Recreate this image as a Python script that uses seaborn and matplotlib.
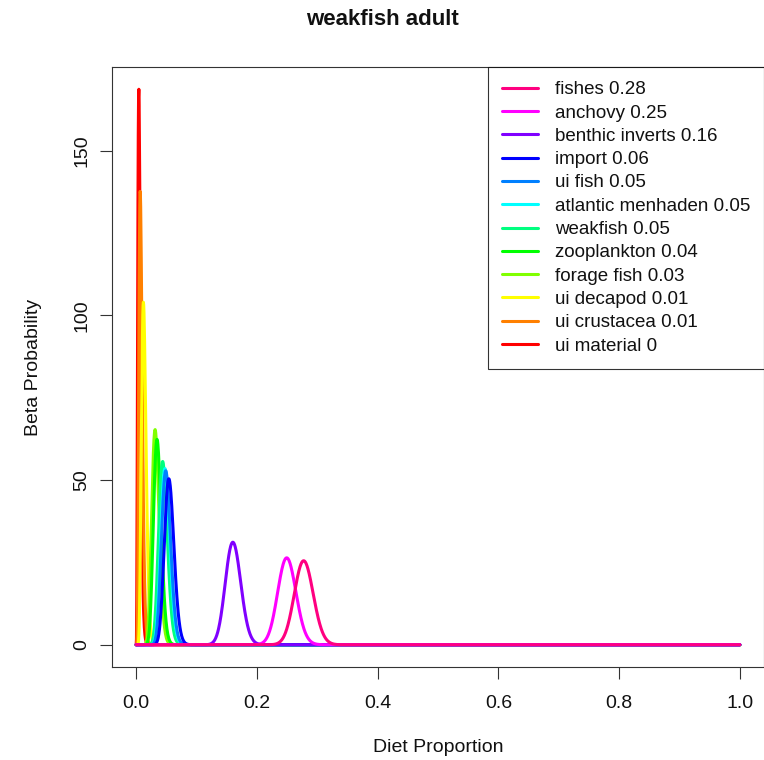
import math

import matplotlib

matplotlib.use("Agg")
import matplotlib.pyplot as plt
import numpy as np
import pandas as pd
import seaborn as sns

# prey groups in drawing order (legend shows them reversed)
prey = [
    "ui material", "ui crustacea", "ui decapod", "forage fish", "zooplankton",
    "weakfish", "atlantic menhaden", "ui fish", "import", "benthic inverts",
    "anchovy", "fishes",
]
legend_props = ["0", "0.01", "0.01", "0.03", "0.04", "0.05", "0.05", "0.05",
                "0.06", "0.16", "0.25", "0.28"]
# beta means estimated from curve positions/heights, shared precision
means = [0.0056, 0.0079, 0.0132, 0.0325, 0.0357, 0.045, 0.0488, 0.0501,
         0.0552, 0.161, 0.250, 0.278]
precision = 820.0
colors = ["#FF0000", "#FF8000", "#FFFF00", "#80FF00", "#00FF00", "#00FF80",
          "#00FFFF", "#0080FF", "#0000FF", "#8000FF", "#FF00FF", "#FF0080"]

x = np.linspace(0, 1, 2001)


def beta_pdf(xs, a, b):
    logc = math.lgamma(a + b) - math.lgamma(a) - math.lgamma(b)
    with np.errstate(divide="ignore"):
        out = np.exp(logc + (a - 1) * np.log(xs) + (b - 1) * np.log1p(-xs))
    return np.nan_to_num(out)


rows = []
for name, lab, m in zip(prey, legend_props, means):
    a, b = m * precision, (1 - m) * precision
    rows.append(pd.DataFrame({"x": x, "y": beta_pdf(x, a, b),
                              "prey": f"{name} {lab}"}))
df = pd.concat(rows, ignore_index=True)
labels = [f"{n} {l}" for n, l in zip(prey, legend_props)]

sns.set_style("ticks")
plt.rcParams["font.family"] = ["Liberation Sans", "DejaVu Sans"]

fig = plt.figure(figsize=(7.64, 7.60), dpi=100)
ax = fig.add_axes([0.1466, 0.1224, 0.8534, 0.7894])
sns.lineplot(data=df, x="x", y="y", hue="prey", hue_order=labels,
             palette=colors, linewidth=2.2, ax=ax, legend=True)

ymax = df["y"].max()
ax.set_xlim(-0.04, 1.04)
ax.set_ylim(-0.04 * ymax, 1.04 * ymax)
ax.set_xticks([0, 0.2, 0.4, 0.6, 0.8, 1.0])
ax.set_xticklabels(["0.0", "0.2", "0.4", "0.6", "0.8", "1.0"])
ax.set_yticks([0, 50, 100, 150])
ax.tick_params(axis="both", labelsize=14, length=8.6, width=0.8,
               color="#333333", labelcolor="#111111")
ax.tick_params(axis="x", pad=11.5)
ax.tick_params(axis="y", pad=7)
for lbl in ax.get_yticklabels():
    lbl.set_rotation(90)
    lbl.set_va("center")
for sp in ax.spines.values():
    sp.set_visible(True)
    sp.set_color("#333333")
    sp.set_linewidth(0.8)

ax.set_xlabel("Diet Proportion", fontsize=14, va="center", color="#111111")
ax.set_ylabel("Beta Probability", fontsize=14, va="center", color="#111111")
ax.xaxis.set_label_coords(0.5, -0.135)
ax.yaxis.set_label_coords(-0.121, 0.5)
fig.suptitle("weakfish adult", fontsize=16, fontweight="bold", y=0.974,
             va="center", color="#111111")

handles, hl = ax.get_legend_handles_labels()
leg = ax.legend(handles[::-1], hl[::-1], loc="upper right", fontsize=13.5,
                frameon=True, fancybox=False, edgecolor="black",
                borderaxespad=0, handlelength=1.9, labelspacing=0.33,
                borderpad=0.75, handletextpad=0.9, labelcolor="#111111")
leg.get_frame().set_linewidth(0.8)

fig.savefig("out.png", dpi=100, facecolor="white")
